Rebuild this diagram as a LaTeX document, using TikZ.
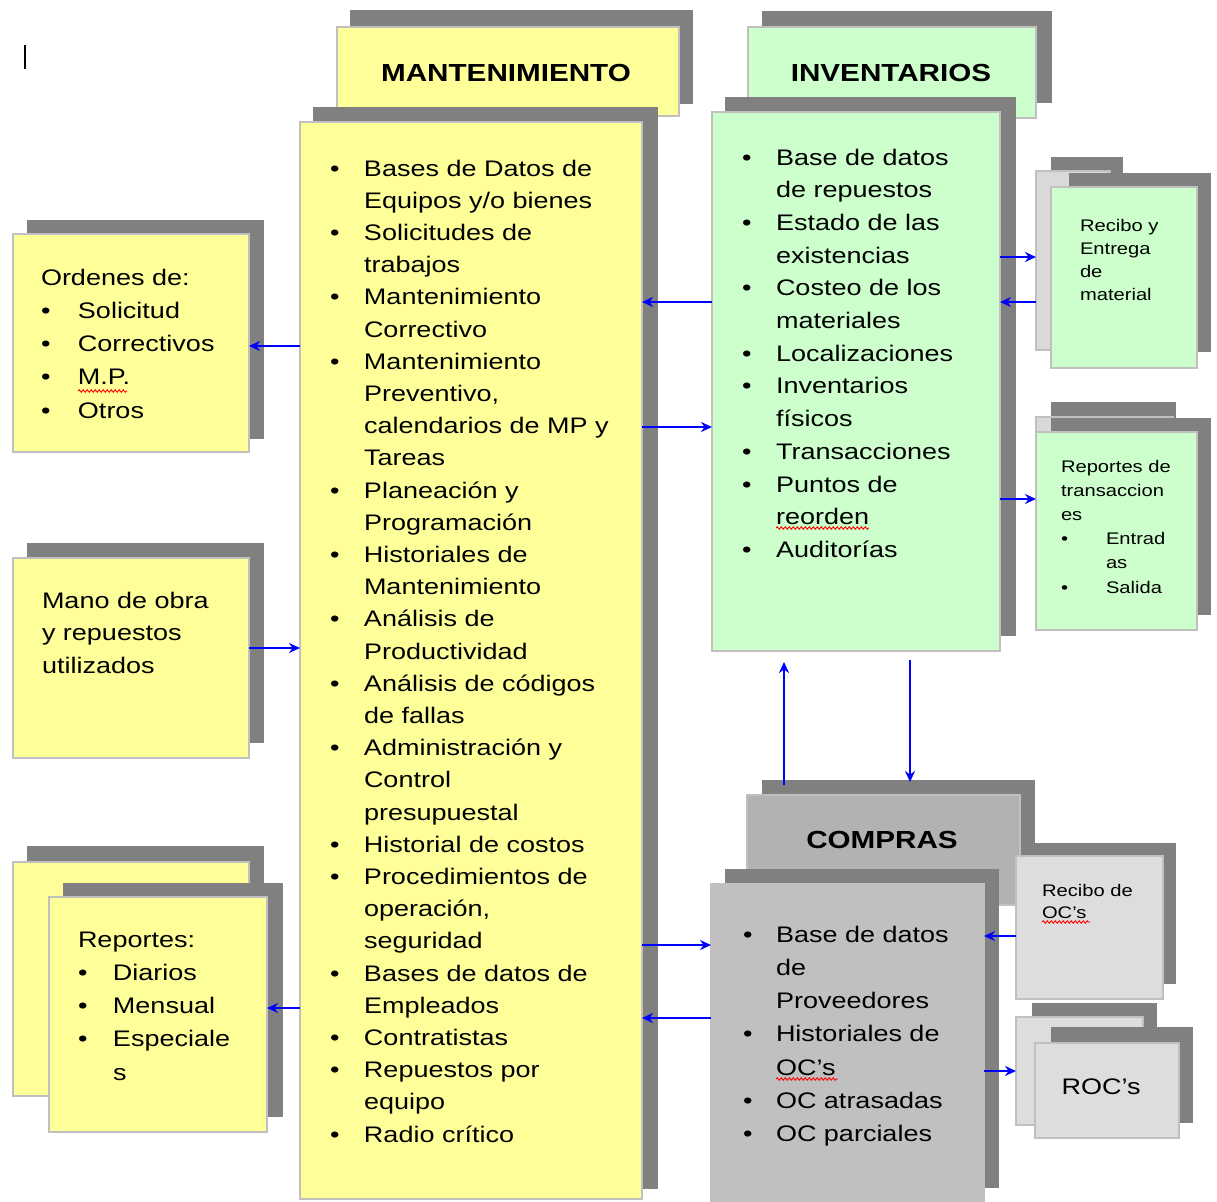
\documentclass[tikz,border=0pt]{standalone}
\usepackage{fontspec}
\setmainfont{Liberation Sans}[FakeStretch=1.2]
\usetikzlibrary{arrows.meta,decorations.pathmorphing}
\definecolor{yel}{HTML}{FFFF99}
\definecolor{grn}{HTML}{CCFFCC}
\definecolor{shd}{HTML}{808080}
\definecolor{brd}{HTML}{C0C0C0}
\definecolor{gmid}{HTML}{B2B2B2}
\definecolor{gbox}{HTML}{C0C0C0}
\definecolor{glite}{HTML}{DDDDDD}
\definecolor{gback}{HTML}{D9D9D9}
\definecolor{arrblue}{HTML}{0000FF}
\newcommand\shad[4]{\fill[shd] (#1,#2) rectangle (#3,#4);}
\newcommand\rbox[6]{\node[boxst, fill=#6, minimum width={(#4-#2)*1pt}, minimum height={(#5-#3)*1pt}] (#1) at (#2,#3) {};}
\newcommand\bl[1][34pt]{\makebox[#1][l]{\textbullet}}
\newcommand\cl[1][34pt]{\hspace*{#1}}
\begin{document}
\begin{tikzpicture}[x=1pt,y=-1pt,
 boxst/.style={draw=brd, line width=2pt, anchor=north west, inner sep=0pt, outer sep=0pt},
 txt/.style={anchor=north west, inner sep=0pt, outer sep=0pt, align=left},
 big/.style={font=\fontsize{22.5}{#1}\selectfont},
 small/.style={font=\fontsize{16.8}{#1}\selectfont},
 head/.style={inner sep=0pt, font=\fontsize{24.7}{28}\selectfont\bfseries},
 arr/.style={draw=arrblue, line width=2pt, -{Stealth[length=11pt,width=10pt]}},
 squig/.style={draw=red, line width=0.9pt, decorate, decoration={snake, amplitude=1.2pt, segment length=4pt}}]
\useasboundingbox (0,0) rectangle (1217,1201);
\fill[white] (0,0) rectangle (1217,1201);
% cursor
\draw[line width=1.5pt] (25,45) -- (25,69);

% MANTENIMIENTO
\shad{350}{10}{693}{104}
\rbox{mh}{337}{27}{679}{116}{yel}
\node[head] (mht) at (506,73) {MANTENIMIENTO};
\shad{313}{107}{658}{1189}
\rbox{mant}{300}{122}{642}{1199}{yel}
\node[txt, big=32.2] (mantt) at (330,156) {\rule{0pt}{20pt}\bl Bases de Datos de\\
\cl Equipos y/o bienes\\
\bl Solicitudes de\\
\cl trabajos\\
\bl Mantenimiento\\
\cl Correctivo\\
\bl Mantenimiento\\
\cl Preventivo,\\
\cl calendarios de MP y\\
\cl Tareas\\
\bl Planeación y\\
\cl Programación\\
\bl Historiales de\\
\cl Mantenimiento\\
\bl Análisis de\\
\cl Productividad\\
\bl Análisis de códigos\\
\cl de fallas\\
\bl Administración y\\
\cl Control\\
\cl presupuestal\\
\bl Historial de costos\\
\bl Procedimientos de\\
\cl operación,\\
\cl seguridad\\
\bl Bases de datos de\\
\cl Empleados\\
\bl Contratistas\\
\bl Repuestos por\\
\cl equipo\\
\bl Radio crítico};

% INVENTARIOS
\shad{762}{11}{1052}{103}
\rbox{ih}{748}{27}{1036}{118}{grn}
\node[head] (iht) at (891,73) {INVENTARIOS};
\shad{725}{97}{1016}{636}
\rbox{inv}{712}{112}{1000}{651}{grn}
\node[txt, big=32.7] (invt) at (742,145) {\rule{0pt}{20pt}\bl Base de datos\\
\cl de repuestos\\
\bl Estado de las\\
\cl existencias\\
\bl Costeo de los\\
\cl materiales\\
\bl Localizaciones\\
\bl Inventarios\\
\cl físicos\\
\bl Transacciones\\
\bl Puntos de\\
\cl reorden\\
\bl Auditorías};
\draw[squig] (776,528) -- (869,528);

% Recibo y Entrega stack
\shad{1051}{157}{1123}{200}
\rbox{reb}{1036}{171}{1110}{350}{gback}
\shad{1069}{173}{1211}{352}
\rbox{ref}{1051}{187}{1197}{368}{grn}
\node[txt, small=23] (reft) at (1080,216) {\rule{0pt}{15pt}Recibo y\\ Entrega\\ de\\ material};

% Reportes de transacciones stack
\shad{1051}{402}{1176}{450}
\rbox{rtb}{1036}{417}{1173}{500}{gback}
\shad{1051}{418}{1211}{615}
\rbox{rtf}{1036}{432}{1197}{630}{grn}
\node[txt, small=24.2] (rtft) at (1061,457) {\rule{0pt}{15pt}Reportes de\\ transaccion\\ es\\
\bl[45pt]Entrad\\ \cl[45pt]as\\ \bl[45pt]Salida};

% Ordenes
\shad{27}{220}{264}{439}
\rbox{ord}{13}{234}{249}{452}{yel}
\node[txt, big=33.25] (ordt) at (41,265) {\rule{0pt}{20pt}Ordenes de:\\
\bl[37pt]Solicitud\\ \bl[37pt]Correctivos\\ \bl[37pt]M.P.\\ \bl[37pt]Otros};
\draw[squig] (78,391) -- (127,391);

% Mano de obra
\shad{27}{543}{264}{743}
\rbox{mano}{13}{558}{249}{758}{yel}
\node[txt, big=32.5] (manot) at (42,588) {\rule{0pt}{20pt}Mano de obra\\ y repuestos\\ utilizados};

% Reportes stack
\shad{27}{846}{264}{1080}
\rbox{repb}{13}{862}{249}{1096}{yel}
\shad{63}{883}{283}{1117}
\rbox{repf}{49}{897}{267}{1132}{yel}
\node[txt, big=33.25] (repft) at (78,927) {\rule{0pt}{20pt}Reportes:\\
\bl[35pt]Diarios\\ \bl[35pt]Mensual\\ \bl[35pt]Especiale\\ \cl[35pt]s};

% COMPRAS
\shad{762}{780}{1035}{855}
\rbox{ch}{747}{795}{1020}{905}{gmid}
\node[head] (cht) at (882,840) {COMPRAS};
\shad{725}{869}{999}{1188}
\rbox{comp}{711}{884}{984}{1205}{gbox}
\node[txt, big=33.3] (compt) at (743,922) {\rule{0pt}{20pt}\bl[33pt]Base de datos\\
\cl[33pt]de\\ \cl[33pt]Proveedores\\ \bl[33pt]Historiales de\\ \cl[33pt]OC’s\\
\bl[33pt]OC atrasadas\\ \bl[33pt]OC parciales};
\draw[squig] (776,1079) -- (838,1079);

% Recibo de OC's
\shad{1030}{843}{1176}{984}
\rbox{roc}{1016}{856}{1163}{999}{glite}
\node[txt, small=22] (roct) at (1042,881) {\rule{0pt}{15pt}Recibo de\\ OC’s};
\draw[squig] (1042,922) -- (1090,922);

% ROC's stack
\shad{1032}{1003}{1157}{1030}
\rbox{rcb}{1016}{1017}{1143}{1125}{glite}
\shad{1051}{1027}{1193}{1123}
\rbox{rcf}{1035}{1043}{1179}{1138}{glite}
\node[big=28, inner sep=0pt] (rcft) at (1101,1087) {ROC’s};

% connectors
\draw[arr] (mant.west |- 0,346) -- (ord.east |- 0,346);
\draw[arr] (mano.east |- 0,648) -- (mant.west |- 0,648);
\draw[arr] (mant.west |- 0,1008) -- (repf.east |- 0,1008);
\draw[arr] (inv.west |- 0,302) -- (mant.east |- 0,302);
\draw[arr] (mant.east |- 0,427) -- (inv.west |- 0,427);
\draw[arr] (mant.east |- 0,945) -- (comp.west |- 0,945);
\draw[arr] (comp.west |- 0,1018) -- (mant.east |- 0,1018);
\draw[arr] (inv.east |- 0,257) -- (reb.west |- 0,257);
\draw[arr] (reb.west |- 0,302) -- (inv.east |- 0,302);
\draw[arr] (inv.east |- 0,499) -- (rtf.west |- 0,499);
\draw[arr] (roc.west |- 0,936) -- (comp.east |- 0,936);
\draw[arr] (comp.east |- 0,1071) -- (rcb.west |- 0,1071);
\draw[arr, shorten <=10pt, shorten >=11pt] (ch.north -| 784,0) -- (inv.south -| 784,0);
\draw[arr, shorten <=9pt, shorten >=13pt] (inv.south -| 910,0) -- (ch.north -| 910,0);
\end{tikzpicture}
\end{document}
